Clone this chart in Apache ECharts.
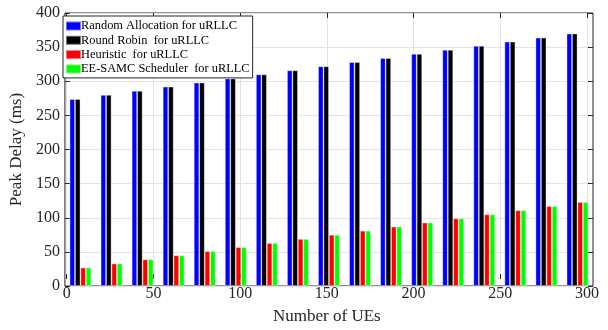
<!DOCTYPE html>
<html>
<head>
<meta charset="utf-8">
<script src="https://cdn.jsdelivr.net/npm/echarts@6/dist/echarts.min.js"></script>
<style>
  html, body { margin: 0; padding: 0; background: #fff; }
  #chart { width: 608px; height: 330px; }
</style>
</head>
<body>
<div id="chart"></div>
<script>
// Peak delay per scheduling scheme, 17 UE-count groups
const groups = ['g1','g2','g3','g4','g5','g6','g7','g8','g9','g10','g11','g12','g13','g14','g15','g16','g17'];
const randomAlloc = [274, 280, 286, 292, 298, 304, 310, 316, 322, 328, 334, 340, 346, 352, 358, 364, 370];
const roundRobin  = [274, 280, 286, 292, 298, 304, 310, 316, 322, 328, 334, 340, 346, 352, 358, 364, 370];
const heuristic   = [27, 33, 39, 45, 51, 57, 63, 69, 75, 81, 87, 93, 99, 105, 111, 117, 123];
const eeSamc      = [27, 33, 39, 45, 51, 57, 63, 69, 75, 81, 87, 93, 99, 105, 111, 117, 123];

const seriesNames = [
  'Random Allocation for uRLLC',
  'Round Robin  for uRLLC',
  'Heuristic  for uRLLC',
  'EE-SAMC Scheduler  for uRLLC'
];
const seriesColors = ['#0000ff', '#000000', '#ff0000', '#00ff00'];
const seriesData = [randomAlloc, roundRobin, heuristic, eeSamc];

const xTickMin = 0, xTickMax = 300, xTickStep = 50;
const yMin = 0, yMax = 400, yStep = 50;

const FONT = 'Liberation Serif';
const INK = '#262626';
const GRIDLINE = '#e3e3e3';

const chart = echarts.init(document.getElementById('chart'), null, { renderer: 'canvas' });

chart.setOption({
  animation: false,
  backgroundColor: '#ffffff',
  textStyle: { fontFamily: FONT },
  grid: [
    { left: 62, right: 15, top: 13, bottom: 44, show: true,
      borderColor: INK, borderWidth: 1, backgroundColor: 'transparent' },
    { left: 66.7, right: 21, top: 13, bottom: 44 }
  ],
  legend: {
    orient: 'vertical',
    left: 63, top: 16,
    padding: [3, 3, 2, 2],
    itemWidth: 15, itemHeight: 9, itemGap: 0.3,
    icon: 'rect',
    backgroundColor: '#ffffff',
    borderColor: INK, borderWidth: 1,
    textStyle: { fontFamily: FONT, fontSize: 12.4, color: '#000', lineHeight: 14, padding: [0, 0, 0, -5] },
    data: seriesNames
  },
  xAxis: [
    { type: 'category', gridIndex: 0, data: groups, show: false, boundaryGap: true },
    { type: 'value', gridIndex: 1, min: xTickMin, max: xTickMax, interval: xTickStep,
      position: 'bottom',
      name: 'Number of UEs', nameLocation: 'middle', nameGap: 29,
      nameTextStyle: { fontFamily: FONT, fontSize: 17, color: INK },
      axisLine: { show: false },
      axisTick: { show: true, inside: true, length: 5, lineStyle: { color: INK } },
      axisLabel: { fontFamily: FONT, fontSize: 16, color: INK, margin: 7 },
      splitLine: { show: true, lineStyle: { color: GRIDLINE, width: 1 } } },
    { type: 'value', gridIndex: 1, min: xTickMin, max: xTickMax, interval: xTickStep,
      position: 'top',
      axisLine: { show: false },
      axisTick: { show: true, inside: true, length: 5, lineStyle: { color: INK } },
      axisLabel: { show: false },
      splitLine: { show: false } }
  ],
  yAxis: [
    { type: 'value', gridIndex: 0, min: yMin, max: yMax, interval: yStep,
      position: 'left',
      name: 'Peak Delay (ms)', nameLocation: 'middle', nameGap: 37,
      nameTextStyle: { fontFamily: FONT, fontSize: 17, color: INK },
      axisLine: { show: false },
      axisTick: { show: true, inside: true, length: 5, lineStyle: { color: INK } },
      axisLabel: { fontFamily: FONT, fontSize: 16, color: INK, margin: 5 },
      splitLine: { show: true, lineStyle: { color: GRIDLINE, width: 1 } } },
    { type: 'value', gridIndex: 0, min: yMin, max: yMax, interval: yStep,
      position: 'right',
      axisLine: { show: false },
      axisTick: { show: true, inside: true, length: 5, lineStyle: { color: INK } },
      axisLabel: { show: false },
      splitLine: { show: false } },
    { type: 'value', gridIndex: 1, min: yMin, max: yMax, show: false }
  ],
  series: seriesNames.map((name, i) => ({
    name,
    type: 'bar',
    xAxisIndex: 0,
    yAxisIndex: 0,
    data: seriesData[i],
    barGap: '0%',
    barCategoryGap: '30%',
    itemStyle: {
      color: seriesColors[i],
      borderColor: 'rgba(255,255,255,0.45)',
      borderWidth: 0.8
    },
    z: 3
  }))
});
</script>
</body>
</html>
